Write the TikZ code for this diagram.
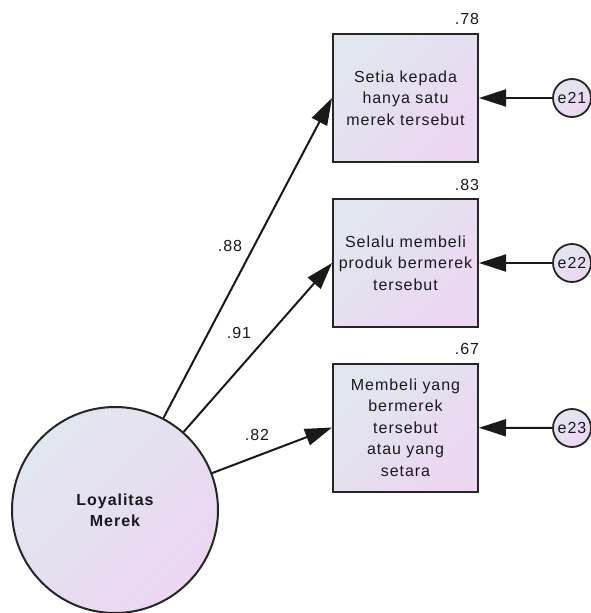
\documentclass[tikz,border=0pt]{standalone}
\usepackage{fontspec}
\setmainfont{Liberation Sans}[LetterSpace=6]
\usetikzlibrary{arrows.meta,shadings}
\definecolor{fillA}{RGB}{225,231,238}
\definecolor{fillB}{RGB}{236,214,242}
\definecolor{ink}{RGB}{25,25,30}
\begin{document}
\begin{tikzpicture}[x=1pt,y=-1pt,
  gradfill/.style={top color=fillA, bottom color=fillB, shading angle=45},
  obs/.style={gradfill, draw=black!85, line width=2pt, minimum width=145pt,
    minimum height=128pt, inner sep=0pt, align=center, text=ink,
    font=\fontsize{16}{21.5}\selectfont},
  latent/.style={gradfill, circle, draw=black!85, line width=2pt,
    minimum size=206pt, inner sep=0pt, align=center, text=ink,
    font=\bfseries\fontsize{16}{21}\selectfont},
  err/.style={gradfill, circle, draw=black!85, line width=1.8pt,
    minimum size=38pt, inner sep=0pt, text=ink,
    font=\fontsize{16}{19}\selectfont},
  coef/.style={text=ink, font=\fontsize{16}{19}\selectfont, inner sep=0pt},
  path/.style={draw=black!90, line width=2pt,
    -{Triangle[length=27pt,width=17pt]}}
]
\useasboundingbox (0,0) rectangle (591,613);

% indicators
\node[obs] (b1) at (405.5,98) {Setia kepada\\hanya satu\\merek tersebut};
\node[obs] (b2) at (405.5,263) {Selalu membeli\\produk bermerek\\tersebut};
\node[obs] (b3) at (405.5,427.5) {Membeli yang\\bermerek\\tersebut\\atau yang\\setara};

% latent construct
\node[latent] (lm) at (115,510) {Loyalitas\\Merek};

% error terms
\node[err] (e21) at (572,98) {e21};
\node[err] (e22) at (572,263) {e22};
\node[err] (e23) at (572,428) {e23};

% loadings
\draw[path] (lm) -- (b1.west);
\draw[path] (lm) -- (b2.west);
\draw[path] (lm) -- (b3.west);

% error paths
\draw[path] (e21) -- (b1);
\draw[path] (e22) -- (b2);
\draw[path] (e23) -- (b3);

% squared multiple correlations
\node[coef] (r1) at (467,19) {.78};
\node[coef] (r2) at (467,185) {.83};
\node[coef] (r3) at (467,349) {.67};

% standardized loadings
\node[coef] (w1) at (230,246) {.88};
\node[coef] (w2) at (239,333) {.91};
\node[coef] (w3) at (257,435) {.82};
\end{tikzpicture}
\end{document}
